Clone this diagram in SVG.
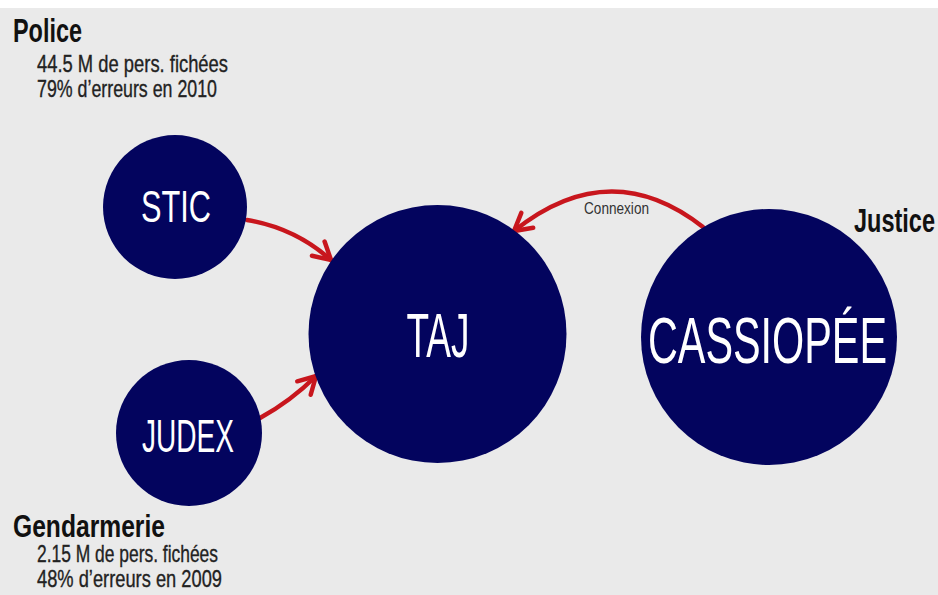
<svg xmlns="http://www.w3.org/2000/svg" width="938" height="595" viewBox="0 0 938 595">
  <defs>
    <style>
      .node { fill: #03045e; }
      .label { fill: #ffffff; font-family: "Liberation Sans", Arial, sans-serif; font-weight: normal; text-anchor: middle; }
      .head { fill: #111111; font-family: "Liberation Sans", Arial, sans-serif; font-weight: bold; }
      .sub { fill: #222222; stroke: #222222; stroke-width: 0.35; font-family: "Liberation Sans", Arial, sans-serif; font-weight: normal; font-size: 24.5px; }
      .link { fill: none; stroke: #c8161d; stroke-width: 4.5; stroke-linecap: round; }
      .note { fill: #333333; font-family: "Liberation Sans", Arial, sans-serif; font-size: 17px; }
    </style>
    <marker id="chevron" markerUnits="userSpaceOnUse" viewBox="0 0 26 26" markerWidth="26" markerHeight="26" refX="22" refY="13" orient="auto">
      <path d="M5,3.5 L22,13 L5,22.5" fill="none" stroke="#c8161d" stroke-width="4.5" stroke-linejoin="miter" stroke-linecap="round"/>
    </marker>
  </defs>

  <!-- backdrop -->
  <rect x="0" y="0" width="938" height="595" fill="#eaeaea"/>
  <rect x="0" y="0" width="938" height="8" fill="#ffffff"/>

  <!-- source captions -->
  <g id="caption-police">
    <text class="head" x="13" y="42" font-size="33" textLength="69" lengthAdjust="spacingAndGlyphs">Police</text>
    <text class="sub" x="37" y="72" textLength="191" lengthAdjust="spacingAndGlyphs">44.5 M de pers. fichées</text>
    <text class="sub" x="37" y="97" textLength="180" lengthAdjust="spacingAndGlyphs">79% d’erreurs en 2010</text>
  </g>
  <g id="caption-gendarmerie">
    <text class="head" x="13" y="537" font-size="30.5" textLength="152" lengthAdjust="spacingAndGlyphs">Gendarmerie</text>
    <text class="sub" x="37" y="562" textLength="181" lengthAdjust="spacingAndGlyphs">2.15 M de pers. fichées</text>
    <text class="sub" x="37" y="587" textLength="185" lengthAdjust="spacingAndGlyphs">48% d’erreurs en 2009</text>
  </g>
  <g id="caption-justice">
    <text class="head" x="854" y="232" font-size="34" textLength="81" lengthAdjust="spacingAndGlyphs">Justice</text>
  </g>

  <!-- connectors -->
  <g id="connectors">
    <path class="link" d="M247,220 Q295,228 331,260" marker-end="url(#chevron)"/>
    <path class="link" d="M260,418 Q291,401 316,376" marker-end="url(#chevron)"/>
    <path class="link" d="M703,227 Q610,154 514,231" marker-end="url(#chevron)"/>
    <text class="note" x="584" y="214" textLength="65" lengthAdjust="spacingAndGlyphs">Connexion</text>
  </g>

  <!-- databases -->
  <g id="node-stic">
    <circle class="node" cx="175" cy="207" r="72"/>
    <text class="label" x="176" y="222" font-size="45" textLength="70" lengthAdjust="spacingAndGlyphs">STIC</text>
  </g>
  <g id="node-judex">
    <circle class="node" cx="189" cy="433" r="73"/>
    <text class="label" x="188" y="452" font-size="46" textLength="92" lengthAdjust="spacingAndGlyphs">JUDEX</text>
  </g>
  <g id="node-taj">
    <circle class="node" cx="437.5" cy="334" r="129"/>
    <text class="label" x="438" y="357" font-size="63" textLength="63" lengthAdjust="spacingAndGlyphs">TAJ</text>
  </g>
  <g id="node-cassiopee">
    <circle class="node" cx="769" cy="337" r="128"/>
    <text class="label" x="767.5" y="363" font-size="64" textLength="239" lengthAdjust="spacingAndGlyphs">CASSIOPÉE</text>
  </g>
</svg>
